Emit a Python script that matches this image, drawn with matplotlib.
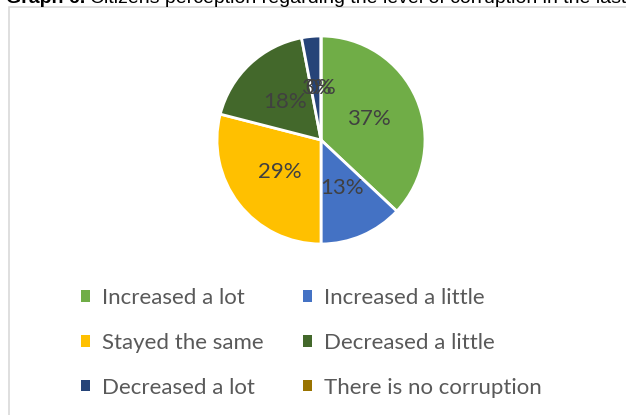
import matplotlib
matplotlib.use('Agg')
import matplotlib.pyplot as plt
from matplotlib.patches import Patch, Rectangle

# citizens' perception of corruption level (%)
categories = ['Increased a lot', 'Increased a little', 'Stayed the same',
              'Decreased a little', 'Decreased a lot', 'There is no corruption']
values = [37, 13, 29, 18, 3, 0]
colors = ['#70AD47', '#4472C4', '#FFC000', '#43682B', '#264478', '#997300']

W, H = 626, 415
fig = plt.figure(figsize=(W / 100, H / 100), dpi=100)

# cut-off caption above the chart box
t1 = fig.text(6 / W, 1 - 3 / H, 'Graph 6.', fontsize=14, fontweight='bold',
              family='Liberation Sans', va='baseline', ha='left')
fig.canvas.draw()
bb = t1.get_window_extent()
fig.text((bb.x1 + 5) / W, 1 - 3 / H,
         'Citizens perception regarding the level of corruption in the last years',
         fontsize=14, family='Liberation Sans', va='baseline', ha='left')

# chart border (continues past the right/bottom edges)
fig.patches.append(Rectangle((8.5 / W, -0.1), 1.2, 1.1 - 7.5 / H,
                             transform=fig.transFigure, fill=False,
                             edgecolor='#D9D9D9', linewidth=1.2))

cx, cy, r = 321, 140, 104
ax = fig.add_axes([(cx - r) / W, 1 - (cy + r) / H, 2 * r / W, 2 * r / H])
wedges, texts, autotexts = ax.pie(
    values, colors=colors, startangle=90, counterclock=False,
    autopct='%.0f%%', pctdistance=0.5,
    wedgeprops=dict(edgecolor='white', linewidth=2),
    textprops=dict(color='#404040', fontsize=16, family='Lato'))
ax.set_xlim(-1, 1)
ax.set_ylim(-1, 1)
ax.axis('off')

handles = [Patch(facecolor=c) for c in colors]
common = dict(frameon=False, handlelength=0.4, handleheight=0.4,
              handletextpad=0.55, labelspacing=1.12, borderpad=0, borderaxespad=0,
              prop=dict(family='Lato', size=16), labelcolor='#595959',
              loc='upper left')
fig.legend(handles[0::2], categories[0::2],
           bbox_to_anchor=(81 / W, 1 - 288 / H), **common)
fig.legend(handles[1::2], categories[1::2],
           bbox_to_anchor=(303 / W, 1 - 288 / H), **common)

fig.savefig('out.png', dpi=100)
